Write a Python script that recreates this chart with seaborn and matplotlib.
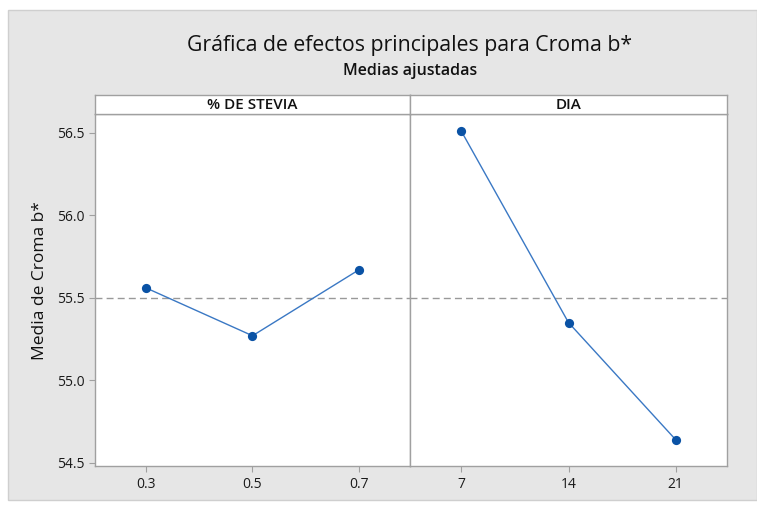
import matplotlib
matplotlib.use("Agg")
import matplotlib.pyplot as plt
import seaborn as sns
import pandas as pd
from matplotlib.patches import Rectangle

stevia_levels = ["0.3", "0.5", "0.7"]
stevia_means = [55.56, 55.27, 55.67]
dia_levels = ["7", "14", "21"]
dia_means = [56.51, 55.35, 54.64]
overall_mean = 55.50
y_ticks = [54.5, 55.0, 55.5, 56.0, 56.5]
panel_titles = ["% DE STEVIA", "DIA"]

sns.set_style("white")
plt.rcParams['font.family'] = ['Open Sans', 'DejaVu Sans']

W, H = 757, 508
fig = plt.figure(figsize=(W / 100, H / 100), dpi=100)
fig.patch.set_facecolor("white")

def fx(x): return x / W
def fy(y): return 1 - y / H

# gray background frame
fig.patches.append(Rectangle((fx(8), fy(500)), fx(757) - fx(8), fy(10) - fy(500),
                             transform=fig.transFigure, facecolor="#e6e6e6",
                             edgecolor="#cfcfcf", lw=1, zorder=-10))

left, mid, right = 95, 410, 727
top, bottom, strip_top = 114, 466, 95
ax1 = fig.add_axes([fx(left), fy(bottom), fx(mid) - fx(left), fy(top) - fy(bottom)])
ax2 = fig.add_axes([fx(mid), fy(bottom), fx(right) - fx(mid), fy(top) - fy(bottom)], sharey=ax1)

line_c = "#3a78c4"
mark_c = "#0a52a5"
edge_c = "#a0a0a0"

for ax, levels, means, title in [(ax1, stevia_levels, stevia_means, panel_titles[0]),
                                  (ax2, dia_levels, dia_means, panel_titles[1])]:
    df = pd.DataFrame({"x": levels, "y": means})
    sns.pointplot(data=df, x="x", y="y", ax=ax, color=line_c, markers="o",
                  linewidth=1.0, markersize=0, errorbar=None)
    ax.scatter(range(len(means)), means, s=44, color=mark_c, zorder=5, linewidths=0)
    ax.axhline(overall_mean, color="#999999", lw=1, ls=(0, (5, 3)), zorder=1)
    ax.set_xlim(-0.48, 2.48)
    ax.set_ylim(54.48, 56.615)
    ax.set_facecolor("white")
    for s in ax.spines.values():
        s.set_color(edge_c)
        s.set_linewidth(1)
    ax.set_xlabel("")
    ax.set_ylabel("")
    ax.tick_params(axis="x", bottom=True, length=4, color=edge_c, labelsize=10, pad=4,
                   labelcolor="#1a1a1a")
    # strip
    sax = fig.add_axes([ax.get_position().x0, fy(top), ax.get_position().width, fy(strip_top) - fy(top)])
    sax.set_xticks([]); sax.set_yticks([])
    sax.set_facecolor("white")
    for s in sax.spines.values():
        s.set_color(edge_c)
        s.set_linewidth(1)
    sax.text(0.5, 0.45, title, ha="center", va="center", fontsize=11, fontweight="semibold",
             color="#111111", transform=sax.transAxes)

ax1.set_yticks(y_ticks)
ax1.set_yticklabels([f"{v:.1f}" for v in y_ticks])
ax1.tick_params(axis="y", left=True, length=4, color=edge_c, labelsize=10, labelcolor="#1a1a1a")
ax2.tick_params(axis="y", left=False, labelleft=False)
ax1.set_ylabel("Media de Croma b*", fontsize=12.5, color="#111111")
ax1.yaxis.set_label_coords(-0.15, 0.526)

fig.text(fx(410), fy(45), "Gráfica de efectos principales para Croma b*", ha="center",
         va="center", fontsize=15.3, color="#111111")
fig.text(fx(410), fy(71), "Medias ajustadas", ha="center", va="center", fontsize=11.5,
         fontweight="semibold", color="#111111")

fig.savefig("out.png", dpi=100)
